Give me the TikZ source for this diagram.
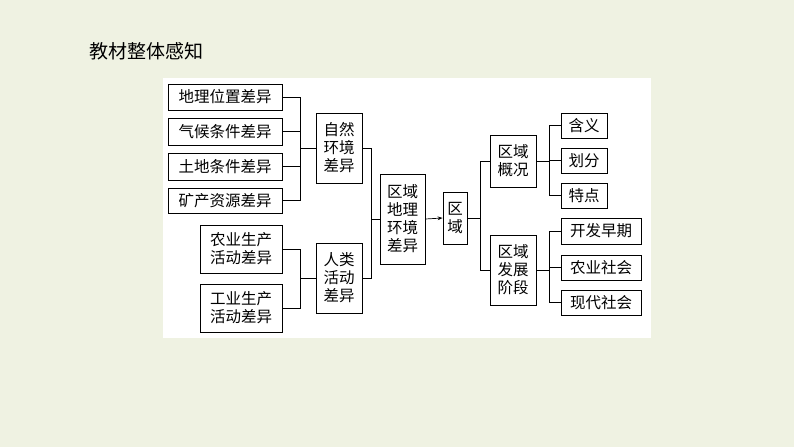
\documentclass[tikz,border=0pt]{standalone}
\usepackage{fontspec}
\setmainfont{Noto Sans CJK SC}
\usetikzlibrary{arrows.meta}
\begin{document}
\begin{tikzpicture}[x=1pt,y=-1pt,
  bx/.style={draw,line width=0.8pt,inner sep=0pt,font=\fontsize{15.5}{18}\selectfont,align=center},
  ln/.style={line width=0.7pt}]
\fill[fill={rgb,255:red,239;green,242;blue,226}] (0,0) rectangle (794,447);
\fill[white] (163,78) rectangle (651,338);
\node[anchor=west,font=\fontsize{19}{22}\selectfont] (title) at (86,51) {教材整体感知};
\newcommand\mybox[6]{\node[bx,minimum width=#4-#2,minimum height=#5-#3] (#1) at ({(#2+#4)/2},{(#3+#5)/2}) {#6};}
\mybox{a1}{168}{84}{282}{110}{地理位置差异}
\mybox{a2}{168}{118}{282}{145}{气候条件差异}
\mybox{a3}{168}{153}{282}{180}{土地条件差异}
\mybox{a4}{168}{188}{282}{213}{矿产资源差异}
\mybox{b1}{200}{225}{282}{273}{农业生产\\活动差异}
\mybox{b2}{200}{284}{282}{332}{工业生产\\活动差异}
\mybox{n}{316}{113}{362}{183}{自然\\环境\\差异}
\mybox{h}{316}{243}{362}{313}{人类\\活动\\差异}
\mybox{d}{380}{174}{425}{264}{区域\\地理\\环境\\差异}
\mybox{q}{443}{192}{467}{244}{区\\域}
\mybox{g}{490}{135}{536}{187}{区域\\概况}
\mybox{f}{490}{235}{536}{305}{区域\\发展\\阶段}
\mybox{r1}{561}{113}{607}{138}{含义}
\mybox{r2}{561}{148}{607}{173}{划分}
\mybox{r3}{561}{183}{607}{208}{特点}
\mybox{s1}{561}{218}{641}{244}{开发早期}
\mybox{s2}{561}{255}{641}{280}{农业社会}
\mybox{s3}{561}{290}{641}{315}{现代社会}
\foreach \s in {a1,a2,a3,a4} \draw[ln] (\s.east) -- (300,0 |- \s.east) |- (n.west);
\foreach \s in {b1,b2} \draw[ln] (\s.east) -- (300,0 |- \s.east) |- (h.west);
\foreach \s in {n,h} \draw[ln] (\s.east) -- (371,0 |- \s.east) |- (d.west);
\draw[ln,-{Stealth[length=5pt]}] (d.east) -- (q.west);
\foreach \t in {g,f} \draw[ln] (q.east) -- (480,0 |- q.east) |- (\t.west);
\foreach \t in {r1,r2,r3} \draw[ln] (g.east) -- (549,0 |- g.east) |- (\t.west);
\foreach \t in {s1,s2,s3} \draw[ln] (f.east) -- (549,0 |- f.east) |- (\t.west);
\end{tikzpicture}
\end{document}
